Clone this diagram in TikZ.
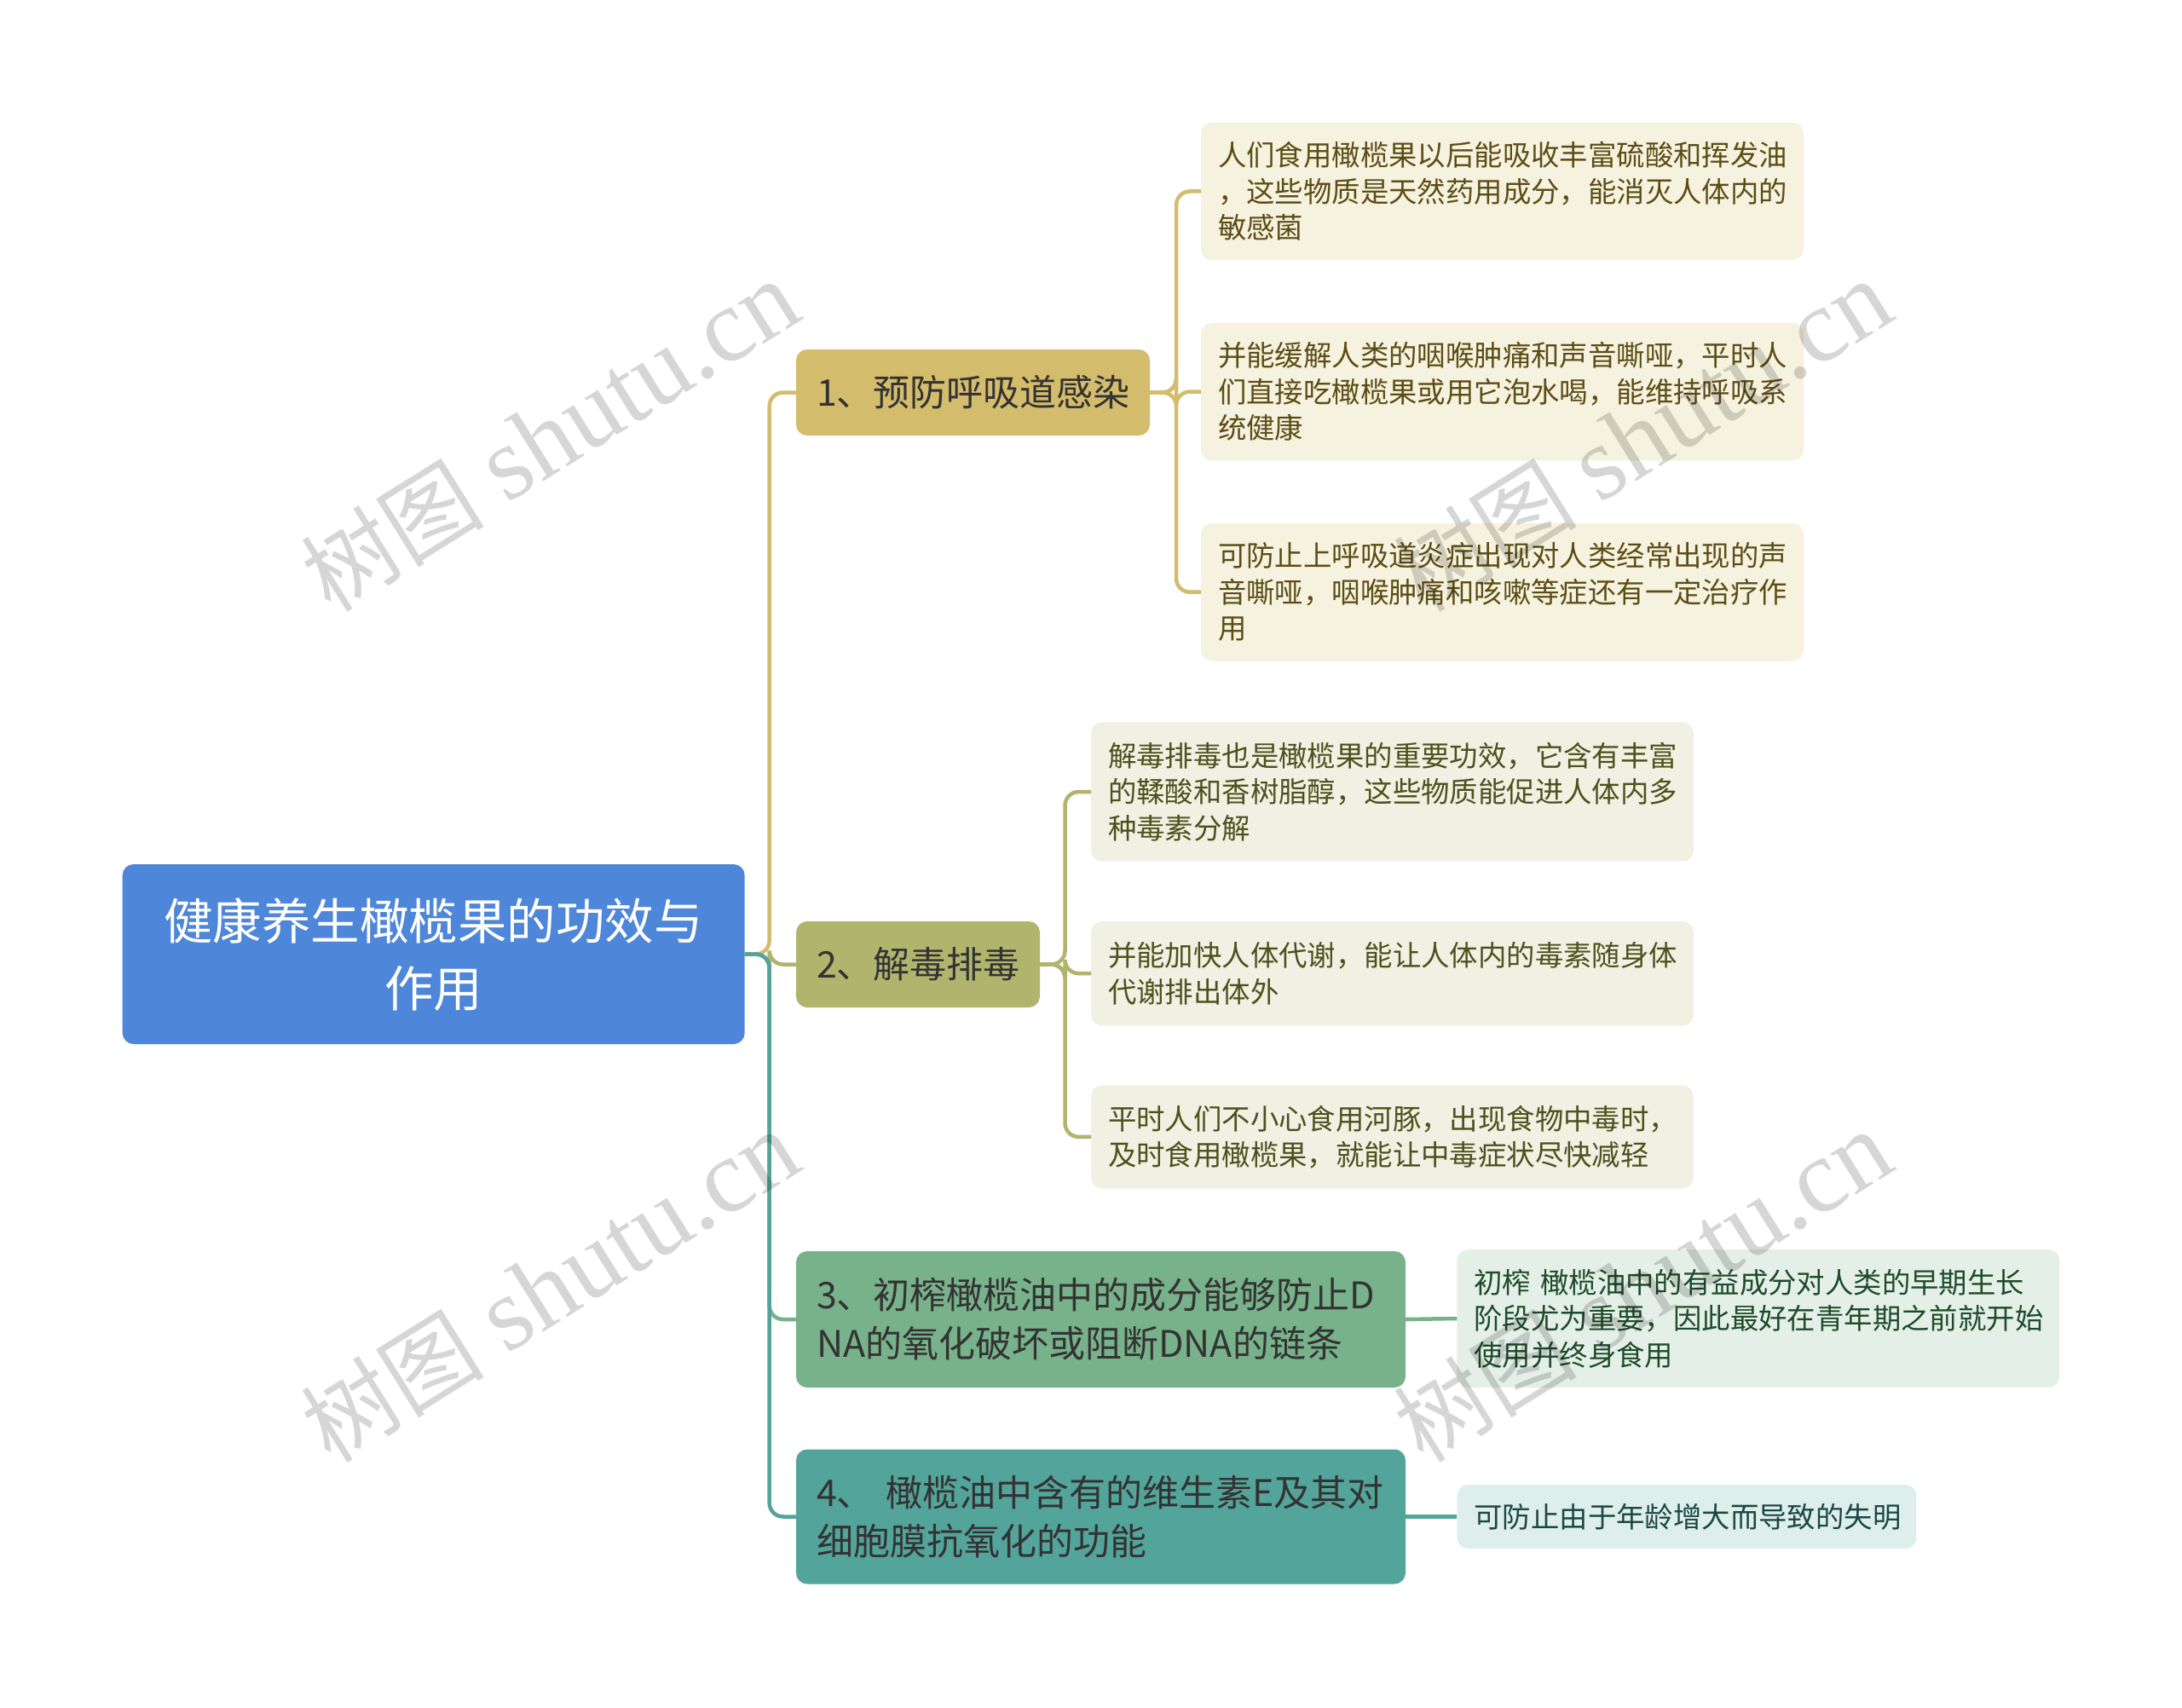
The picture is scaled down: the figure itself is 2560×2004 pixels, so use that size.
\documentclass[tikz,border=0pt]{standalone}
\usepackage{fontspec}
\setmainfont{Noto Sans CJK SC}
\newfontfamily\wmcjk{Noto Sans CJK SC}
\newfontfamily\wmserif{Liberation Serif}
\definecolor{rootblue}{HTML}{4E86D9}
\definecolor{cone}{HTML}{D3BC6B}
\definecolor{ctwo}{HTML}{B0B56E}
\definecolor{cthree}{HTML}{78B28A}
\definecolor{cfour}{HTML}{53A49A}
\definecolor{fone}{HTML}{F6F2E0}
\definecolor{ftwo}{HTML}{F0F0E3}
\definecolor{fthree}{HTML}{E4EFE7}
\definecolor{ffour}{HTML}{DEEEEB}
\definecolor{tone}{HTML}{5C4D15}
\definecolor{ttwo}{HTML}{4B521C}
\definecolor{tthree}{HTML}{1E4B2B}
\definecolor{tfour}{HTML}{1A4842}
\definecolor{brtext}{HTML}{333333}
\begin{document}
\begin{tikzpicture}[x=1pt,y=-1pt,
  base/.style={anchor=north west, rounded corners=13pt, inner ysep=0pt, outer sep=0pt, align=left},
  rootbox/.style={base, fill=rootblue, text=white, font=\fontsize{57.5}{79}\selectfont, align=center, inner xsep=0pt},
  brbox/.style={base, text=brtext, font=\fontsize{43}{57}\selectfont, inner xsep=24pt},
  leafbox/.style={base, font=\fontsize{33.4}{42.5}\selectfont, inner xsep=20pt, text width=667pt},
  conn/.style={line width=4.5pt, rounded corners=16pt},
  wm/.style={rotate=32, text=black, text opacity=0.16, font=\fontsize{123}{123}\selectfont}
]
\useasboundingbox (0,0) rectangle (2560,2004);
\fill[white] (0,0) rectangle (2560,2004);

% root
\node[rootbox, text width=730pt, minimum height=211pt] (root) at (143.7,1014) {健康养生橄榄果的功效与\\作用};

% branches
\node[brbox, fill=cone, text width=367pt, minimum height=101pt] (b1) at (934,410) {1、预防呼吸道感染};
\node[brbox, fill=ctwo, text width=238pt, minimum height=101pt] (b2) at (934,1081) {2、解毒排毒};
\node[brbox, fill=cthree, text width=667pt, minimum height=160pt] (b3) at (934,1468) {3、初榨橄榄油中的成分能够防止D\\NA的氧化破坏或阻断DNA的链条};
\node[brbox, fill=cfour, text width=667pt, minimum height=158pt] (b4) at (934,1700.5) {4、~橄榄油中含有的维生素E及其对\\细胞膜抗氧化的功能};

% leaves of branch 1
\node[leafbox, fill=fone, text=tone, minimum height=161.6pt] (l1a) at (1409,143.7) {人们食用橄榄果以后能吸收丰富硫酸和挥发油\\，这些物质是天然药用成分，能消灭人体内的\\敏感菌};
\node[leafbox, fill=fone, text=tone, minimum height=161.6pt] (l1b) at (1409,378.8) {并能缓解人类的咽喉肿痛和声音嘶哑，平时人\\们直接吃橄榄果或用它泡水喝，能维持呼吸系\\统健康};
\node[leafbox, fill=fone, text=tone, minimum height=161.6pt] (l1c) at (1409,613.9) {可防止上呼吸道炎症出现对人类经常出现的声\\音嘶哑，咽喉肿痛和咳嗽等症还有一定治疗作\\用};

% leaves of branch 2
\node[leafbox, fill=ftwo, text=ttwo, minimum height=163.3pt] (l2a) at (1280,847.4) {解毒排毒也是橄榄果的重要功效，它含有丰富\\的鞣酸和香树脂醇，这些物质能促进人体内多\\种毒素分解};
\node[leafbox, fill=ftwo, text=ttwo, minimum height=122.5pt] (l2b) at (1280,1080.9) {并能加快人体代谢，能让人体内的毒素随身体\\代谢排出体外};
\node[leafbox, fill=ftwo, text=ttwo, minimum height=120.8pt] (l2c) at (1280,1273.5) {平时人们不小心食用河豚，出现食物中毒时，\\及时食用橄榄果，就能让中毒症状尽快减轻};

% leaf of branch 3
\node[leafbox, fill=fthree, text=tthree, minimum height=161.6pt] (l3) at (1709.4,1466.2) {初榨 橄榄油中的有益成分对人类的早期生长\\阶段尤为重要，因此最好在青年期之前就开始\\使用并终身食用};

% leaf of branch 4
\node[leafbox, fill=ffour, text=tfour, text width=499pt, minimum height=75pt] (l4) at (1709.4,1742) {可防止由于年龄增大而导致的失明};

% connectors root -> branches
\draw[conn, draw=cone] (root.east) -- ++(29,0) |- (b1.west);
\draw[conn, draw=ctwo] (root.east) -- ++(29,0) |- (b2.west);
\draw[conn, draw=cthree] (root.east) -- ++(29,0) |- (b3.west);
\draw[conn, draw=cfour] (root.east) -- ++(29,0) |- (b4.west);

% branch 1 -> leaves
\draw[conn, draw=cone] (b1.east) -- ++(31,0) |- (l1a.west);
\draw[conn, draw=cone] (b1.east) -- ++(31,0) |- (l1b.west);
\draw[conn, draw=cone] (b1.east) -- ++(31,0) |- (l1c.west);

% branch 2 -> leaves
\draw[conn, draw=ctwo] (b2.east) -- ++(29.5,0) |- (l2a.west);
\draw[conn, draw=ctwo] (b2.east) -- ++(29.5,0) |- (l2b.west);
\draw[conn, draw=ctwo] (b2.east) -- ++(29.5,0) |- (l2c.west);

% branch 3, 4 -> leaves
\draw[conn, draw=cthree] (b3.east) -- (l3.west);
\draw[conn, draw=cfour] (b4.east) -- (l4.west);

% watermarks
\node[wm] (wm1) at (645,512) {{\wmcjk\fontsize{108}{108}\selectfont 树图} \wmserif shutu.cn};
\node[wm] (wm2) at (645,1510) {{\wmcjk\fontsize{108}{108}\selectfont 树图} \wmserif shutu.cn};
\node[wm] (wm3) at (1927,512) {{\wmcjk\fontsize{108}{108}\selectfont 树图} \wmserif shutu.cn};
\node[wm] (wm4) at (1927,1510) {{\wmcjk\fontsize{108}{108}\selectfont 树图} \wmserif shutu.cn};
\end{tikzpicture}
\end{document}
